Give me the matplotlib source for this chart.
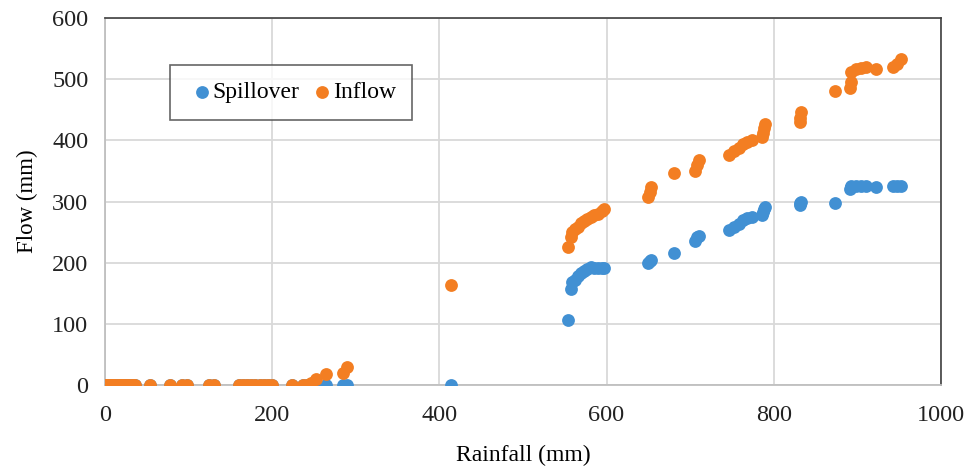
import matplotlib.pyplot as plt

plt.rcParams['font.family'] = ['Liberation Serif', 'DejaVu Serif']

# rainfall (mm) with spillover and inflow (mm)
rainfall = [0, 2, 4, 6, 8, 10, 12, 15, 18, 20, 22, 25, 28, 31, 34, 36,
            54, 78, 92, 98, 124, 130, 160, 165, 170, 175, 180, 185, 190,
            195, 200, 224, 237, 242, 246, 252, 264, 285, 290,
            414,
            554, 557, 559, 562, 566, 569, 573, 577, 581, 585, 590, 594, 597,
            650, 652, 653, 681, 706, 708, 711,
            746, 752, 758, 763, 768, 774, 786, 787, 788, 790,
            831, 832, 833, 873,
            891, 892, 893, 898, 905, 910, 922, 943, 947, 952]
spillover = [0] * 39 + [0,
             106, 157, 168, 171, 178, 183, 187, 190, 193, 192, 191, 192, 191,
             200, 203, 204, 216, 236, 242, 244,
             253, 258, 263, 270, 273, 275, 278, 283, 288, 291,
             294, 297, 299, 298,
             320, 324, 325, 325, 326, 325, 324, 325, 325, 325]
inflow = [0] * 34 + [3, 10, 18, 20, 30] + [163,
          226, 242, 250, 255, 258, 265, 268, 272, 275, 278, 280, 284, 288,
          307, 316, 324, 346, 350, 360, 368,
          376, 382, 388, 394, 398, 401, 405, 412, 420, 426,
          430, 437, 446, 480,
          485, 495, 511, 516, 518, 520, 517, 520, 525, 533]

fig = plt.figure(figsize=(9.66, 4.72), dpi=100)
ax = fig.add_axes([0.1087, 0.184, 0.8653, 0.778])

ax.scatter(rainfall, spillover, s=85, color='#4190D3', label='Spillover', zorder=3, linewidths=0)
ax.scatter(rainfall, inflow, s=85, color='#F37E22', label='Inflow', zorder=4, linewidths=0)

ax.set_xlim(0, 1000)
ax.set_ylim(0, 600)
ax.set_xticks(range(0, 1001, 200))
ax.set_yticks(range(0, 601, 100))
ax.grid(True, color='#d9d9d9', linewidth=1.3)
ax.set_axisbelow(True)
ax.tick_params(length=0, labelsize=17.5, colors='#222222')
ax.tick_params(axis='y', pad=12)
ax.tick_params(axis='x', pad=14)

for side in ['left', 'bottom']:
    ax.spines[side].set_color('#bfbfbf')
    ax.spines[side].set_linewidth(1.3)
for side in ['top', 'right']:
    ax.spines[side].set_color('#404040')
    ax.spines[side].set_linewidth(1.2)

ax.set_xlabel('Rainfall (mm)', fontsize=17, labelpad=14)
ax.set_ylabel('Flow (mm)', fontsize=16.5, labelpad=10)

leg = ax.legend(loc='upper left', bbox_to_anchor=(0.078, 0.872), ncol=2,
                fontsize=17, frameon=True, fancybox=False, handletextpad=-0.2,
                columnspacing=0.3, borderpad=0.7, borderaxespad=0,
                markerscale=1.0, handlelength=1.3)
leg.get_frame().set_edgecolor('#404040')
leg.get_frame().set_linewidth(1.2)

fig.savefig('out.png', dpi=100)
